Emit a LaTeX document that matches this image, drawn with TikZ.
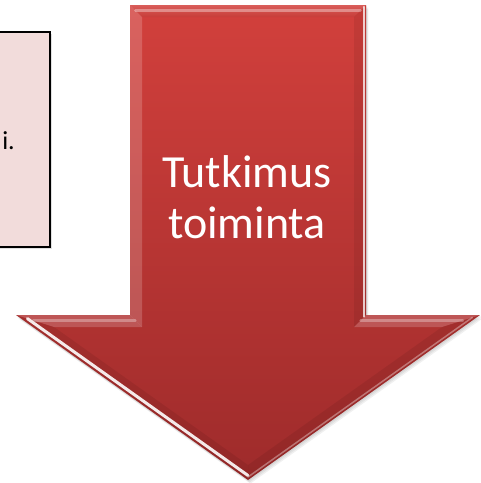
\documentclass[tikz,border=0pt]{standalone}
\usepackage{fontspec}
\setmainfont{Carlito}
\usetikzlibrary{positioning,calc}
\definecolor{arrowtop}{RGB}{210,64,60}
\definecolor{arrowbot}{RGB}{158,43,43}
\definecolor{boxfill}{RGB}{242,220,219}
\tikzset{
    arrowtext/.style={
        text=white,
        inner sep=0pt,
        font=\fontsize{46}{51}\selectfont
    },
    boxtext/.style={
        text=black,
        inner sep=0pt,
        font=\fontsize{26}{31}\selectfont
    },
    notebox/.style={
        draw=black,
        line width=1.3pt,
        fill=boxfill
    },
    litfacet/.style={fill=white, fill opacity=0.18},
    darkfacet/.style={fill=black, fill opacity=0.07},
    gloss/.style={draw=white, line cap=round}
}
\newcommand{\arrowoutline}{(130,5) -- (366,5) -- (366,315) -- (480,315) -- (248,480) -- (16,315) -- (130,315) -- cycle}

\begin{document}
\begin{tikzpicture}[x=1pt, y=-1pt]
    \useasboundingbox (0,0) rectangle (481,483);

    % Text box (cut at the left)
    \fill[black, opacity=0.12] (-6,34) rectangle (52,249);
    \draw[notebox] (-6,32) rectangle (50,247);
    \node[boxtext, anchor=base east] (boxtext) at (15,149) {i.};

    % Arrow corners
    \coordinate (a) at (130,5);
    \coordinate (b) at (366,5);
    \coordinate (c) at (366,315);
    \coordinate (d) at (480,315);
    \coordinate (e) at (248,480);
    \coordinate (f) at (16,315);
    \coordinate (g) at (130,315);
    % Bevel corners
    \coordinate (ai) at (142,17);
    \coordinate (bi) at (354,17);
    \coordinate (ci) at (354,327);
    \coordinate (di) at (442,327);
    \coordinate (ei) at (248,465);
    \coordinate (fi) at (54,327);
    \coordinate (gi) at (142,327);

    % Shadow
    \foreach \s in {1,2,3}
        \fill[black, opacity=0.06, shift={(0.8*\s,1.2*\s)}] \arrowoutline;

    % Arrow body
    \shade[top color=arrowtop, bottom color=arrowbot] \arrowoutline;

    % Bevel
    \shade[top color=arrowtop!85!white, bottom color=arrowtop!95!black] (a) -- (b) -- (bi) -- (ai) -- cycle;
    \draw[gloss, opacity=0.35, line width=2.5pt] ($(a)!0.45!(ai)$) -- ($(b)!0.45!(bi)$);
    \fill[litfacet] (a) -- (ai) -- (gi) -- (g) -- cycle;
    \fill[darkfacet] (b) -- (c) -- (ci) -- (bi) -- cycle;
    \draw[gloss, opacity=0.75, line width=1.5pt] ($(b)!0.15!(bi)$) -- ($(c)!0.15!(ci)$);
    \fill[litfacet] (g) -- (gi) -- (fi) -- (f) -- cycle;
    \fill[litfacet] (c) -- (d) -- (di) -- (ci) -- cycle;
    \draw[gloss, opacity=0.3, line width=2.5pt] ($(g)!0.45!(gi)$) -- ($(f)!0.45!(fi)$);
    \draw[gloss, opacity=0.3, line width=2.5pt] ($(c)!0.45!(ci)$) -- ($(d)!0.45!(di)$);
    \fill[darkfacet] (f) -- (fi) -- (ei) -- (e) -- cycle;
    \draw[gloss, opacity=0.9, line width=3pt] ($(f)!0.3!(fi)$) -- ($(e)!0.3!(ei)$);
    \fill[darkfacet] (d) -- (e) -- (ei) -- (di) -- cycle;
    \draw[gloss, opacity=0.35, line width=1.5pt] ($(d)!0.2!(di)$) -- ($(e)!0.2!(ei)$);

    % Label
    \node[arrowtext, anchor=base] (tutkimus) at (247,187) {Tutkimus};
    \node[arrowtext, anchor=base] (toiminta) at (247,238) {toiminta};
\end{tikzpicture}
\end{document}
